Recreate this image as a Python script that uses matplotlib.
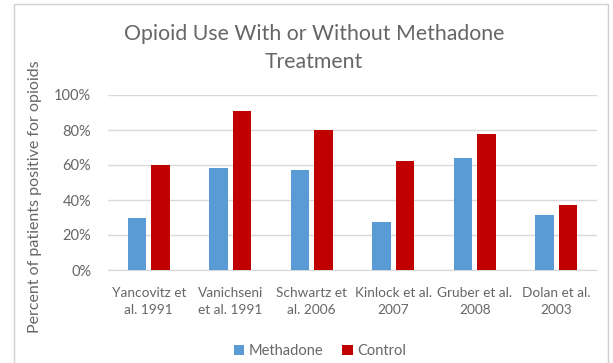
import numpy as np
import matplotlib.pyplot as plt
from matplotlib.patches import Rectangle

studies = ["Yancovitz et\nal. 1991", "Vanichseni\net al. 1991", "Schwartz et\nal. 2006",
           "Kinlock et al.\n2007", "Gruber et al.\n2008", "Dolan et al.\n2003"]
methadone = [0.30, 0.585, 0.57, 0.275, 0.64, 0.315]
control = [0.60, 0.91, 0.80, 0.625, 0.78, 0.37]
yticks = [0, 0.2, 0.4, 0.6, 0.8, 1.0]

blue = '#5B9BD5'
red = '#C00000'
text_grey = '#666666'
grid_grey = '#D9D9D9'

plt.rcParams['font.family'] = ['Lato', 'DejaVu Sans']

fig = plt.figure(figsize=(6.13, 3.63), dpi=100)
fig.patch.set_facecolor('white')

# chart frame like the Excel chart area
fig.patches.append(Rectangle((14 / 613, -0.05), (608 - 14) / 613, 1 - 4 / 363 + 0.05,
                             transform=fig.transFigure, fill=False,
                             edgecolor='#D0D0D0', linewidth=1.0))

ax = fig.add_axes([108 / 613, 1 - 270 / 363, (597 - 108) / 613, (270 - 95) / 363])

x = np.arange(len(studies))
w = 0.225
off = 0.145
ax.bar(x - off, methadone, w, color=blue, label='Methadone', zorder=3)
ax.bar(x + off, control, w, color=red, label='Control', zorder=3)

ax.set_xlim(-0.5, len(studies) - 0.5)
ax.set_ylim(0, 1.0)
ax.set_yticks(yticks)
ax.set_yticklabels([f"{int(round(v * 100))}%" for v in yticks])
ax.set_xticks(x)
ax.set_xticklabels(studies, linespacing=1.5)
ax.tick_params(axis='both', length=0, labelcolor=text_grey)
ax.tick_params(axis='x', pad=12, labelsize=9.8)
ax.tick_params(axis='y', pad=12, labelsize=10.5)

ax.grid(axis='y', color=grid_grey, linewidth=1.0, zorder=0)
for s in ['top', 'right', 'left']:
    ax.spines[s].set_visible(False)
ax.spines['bottom'].set_color(grid_grey)

ax.set_ylabel("Percent of patients positive for opioids", fontsize=11.5,
              color=text_grey)
ax.yaxis.set_label_coords(-0.135, 0.42)

fig.text(314 / 613, 1 - 48 / 363, "Opioid Use With or Without Methadone\nTreatment",
         ha='center', va='center', fontsize=15.3, color=text_grey, linespacing=1.55)

leg = fig.legend(loc='center', bbox_to_anchor=(320 / 613, 1 - 351 / 363), ncol=2,
                 frameon=False, fontsize=10.5, handlelength=0.7, handleheight=0.7,
                 handletextpad=0.3, columnspacing=1.3)
for t in leg.get_texts():
    t.set_color(text_grey)

fig.savefig("out.png", dpi=100, facecolor='white')
